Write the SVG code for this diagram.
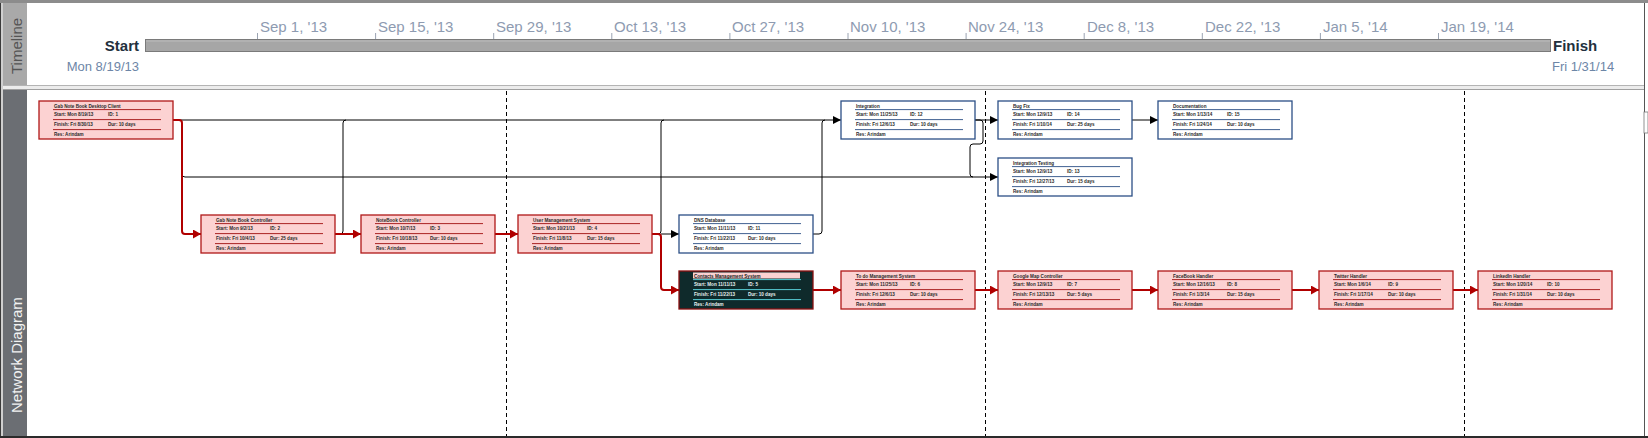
<svg xmlns="http://www.w3.org/2000/svg" width="1648" height="438" viewBox="0 0 1648 438">
<style>
.tk{font-family:"Liberation Sans",Arial,sans-serif;font-size:15px;fill:#8e9bb1}
.se{font-family:"Liberation Sans",Arial,sans-serif;font-size:15px;font-weight:bold;fill:#23303d}
.dt{font-family:"Liberation Sans",Arial,sans-serif;font-size:13px;fill:#6d86a7}
.side{font-family:"Liberation Sans",Arial,sans-serif;font-size:15px}
.n text{font-family:"Liberation Sans",Arial,sans-serif;font-size:4.6px;font-weight:bold;fill:#2a2a2a}
.n rect.box{stroke-width:1.3}
.n line{stroke-width:0.9}
.crit rect.box{fill:#fcd2d2;stroke:#b01818}
.crit line{stroke:#a01010}
.norm rect.box{fill:#ffffff;stroke:#2b4f86}
.norm line{stroke:#2b4f86}
.sel rect.box{fill:#0f2a2b;stroke:#8b1010}
.sel line{stroke:#5fdde6}
.sel text{fill:#e6f0f0}
.sel text.h{fill:#1a1a1a}
.sel rect.hl{fill:#fcd2d2}
.red{fill:none;stroke:#b00000;stroke-width:2}
.blk{fill:none;stroke:#000;stroke-width:1}
.dash{stroke:#000;stroke-width:1;stroke-dasharray:4 3}
</style>
<defs>
<marker id="ar" markerUnits="userSpaceOnUse" markerWidth="10" markerHeight="10" refX="8" refY="4.5" orient="auto"><path d="M0,0 L8,4.5 L0,9 Z" fill="#b00000"/></marker>
<marker id="ab" markerUnits="userSpaceOnUse" markerWidth="10" markerHeight="10" refX="8" refY="4" orient="auto"><path d="M0,0 L8,4 L0,8 Z" fill="#000"/></marker>
</defs>
<rect x="0" y="0" width="1648" height="438" fill="#ffffff"/>
<!-- frame -->
<rect x="0" y="0" width="3" height="438" fill="#cfcfcf"/>
<line x1="0.5" y1="0" x2="0.5" y2="438" stroke="#3a3a3a"/>
<line x1="0" y1="1.5" x2="1648" y2="1.5" stroke="#8c8c8c" stroke-width="3"/>
<!-- side strips -->
<rect x="3" y="3" width="24" height="82" fill="#a9a9a9"/>
<text class="side" transform="translate(21.5,74) rotate(-90)" fill="#555555">Timeline</text>
<rect x="3" y="90" width="24" height="346" fill="#6b6e73"/>
<text class="side" transform="translate(22,413) rotate(-90)" fill="#f2f2f2">Network Diagram</text>
<!-- separator -->
<rect x="3" y="85" width="1641" height="5" fill="#ececec"/>
<line x1="3" y1="85.5" x2="1644" y2="85.5" stroke="#b4b4b4"/>
<line x1="3" y1="89.5" x2="1644" y2="89.5" stroke="#a0a0a0"/>
<line x1="1644.5" y1="3" x2="1644.5" y2="438" stroke="#555555"/>
<rect x="1644" y="112" width="4" height="21" fill="#ffffff" stroke="#777777" stroke-width="0.8"/>
<line x1="0" y1="437" x2="1648" y2="437" stroke="#2a2a2a" stroke-width="2"/>
<!-- timeline -->
<g id="timeline">
<rect x="145.5" y="39.5" width="1405" height="12" fill="#a6a6a6" stroke="#7a7a7a"/>
<line x1="146" y1="41" x2="1550" y2="41" stroke="#bcbcbc"/>
<g stroke="#9aa3b2" stroke-width="1">
<line x1="257.5" y1="33" x2="257.5" y2="39"/>
<line x1="375.6" y1="33" x2="375.6" y2="39"/>
<line x1="493.7" y1="33" x2="493.7" y2="39"/>
<line x1="611.8" y1="33" x2="611.8" y2="39"/>
<line x1="729.9" y1="33" x2="729.9" y2="39"/>
<line x1="848" y1="33" x2="848" y2="39"/>
<line x1="966.1" y1="33" x2="966.1" y2="39"/>
<line x1="1084.2" y1="33" x2="1084.2" y2="39"/>
<line x1="1202.3" y1="33" x2="1202.3" y2="39"/>
<line x1="1320.4" y1="33" x2="1320.4" y2="39"/>
<line x1="1438.5" y1="33" x2="1438.5" y2="39"/>
</g>
<text class="tk" x="260" y="32">Sep 1, '13</text>
<text class="tk" x="378" y="32">Sep 15, '13</text>
<text class="tk" x="496" y="32">Sep 29, '13</text>
<text class="tk" x="614" y="32">Oct 13, '13</text>
<text class="tk" x="732" y="32">Oct 27, '13</text>
<text class="tk" x="850" y="32">Nov 10, '13</text>
<text class="tk" x="968" y="32">Nov 24, '13</text>
<text class="tk" x="1087" y="32">Dec 8, '13</text>
<text class="tk" x="1205" y="32">Dec 22, '13</text>
<text class="tk" x="1323" y="32">Jan 5, '14</text>
<text class="tk" x="1441" y="32">Jan 19, '14</text>
<text class="se" x="139" y="51" text-anchor="end">Start</text>
<text class="se" x="1553" y="51">Finish</text>
<text class="dt" x="139" y="71" text-anchor="end">Mon 8/19/13</text>
<text class="dt" x="1552" y="71">Fri 1/31/14</text>
</g>
<!-- date dividers -->
<g id="dividers">
<line class="dash" x1="506.5" y1="91" x2="506.5" y2="436"/>
<line class="dash" x1="985.5" y1="91" x2="985.5" y2="436"/>
<line class="dash" x1="1464.5" y1="91" x2="1464.5" y2="436"/>
</g>
<!-- connectors -->
<g id="connectors">
<path class="blk" d="M173,120 H841" marker-end="url(#ab)"/>
<path class="blk" d="M182,123 V174 Q182,177 185,177 H998" marker-end="url(#ab)"/>
<path class="blk" d="M335,234 H340 Q343,234 343,231 V123 Q343,120 346,120"/>
<path class="blk" d="M652,234 H658 Q661,234 661,231 V123 Q661,120 664,120"/>
<path class="blk" d="M661,234 H679" marker-end="url(#ab)"/>
<path class="blk" d="M813,234 H819 Q822,234 822,231 V123 Q822,120 825,120"/>
<path class="blk" d="M975,120 H998" marker-end="url(#ab)"/>
<path class="blk" d="M975,120 H980 Q983,120 983,123 V141 Q983,144 980,144 H973 Q970,144 970,147 V174 Q970,177 973,177"/>
<path class="blk" d="M1132,120 H1158" marker-end="url(#ab)"/>
<path class="red" d="M173,120 H179 Q182,120 182,123 V231 Q182,234 185,234 H201" marker-end="url(#ar)"/>
<path class="red" d="M335,234 H361" marker-end="url(#ar)"/>
<path class="red" d="M495,234 H518" marker-end="url(#ar)"/>
<path class="red" d="M652,234 H658 Q661,234 661,237 V287 Q661,290 664,290 H679" marker-end="url(#ar)"/>
<path class="red" d="M813,290 H841" marker-end="url(#ar)"/>
<path class="red" d="M975,290 H998" marker-end="url(#ar)"/>
<path class="red" d="M1132,290 H1158" marker-end="url(#ar)"/>
<path class="red" d="M1292,290 H1319" marker-end="url(#ar)"/>
<path class="red" d="M1453,290 H1478" marker-end="url(#ar)"/>
</g>
<!-- nodes -->
<g id="node-1" class="n crit" transform="translate(39,101)">
<rect class="box" x="0" y="0" width="134" height="38"/>
<line x1="14" y1="8.6" x2="122" y2="8.6"/><line x1="14" y1="18.6" x2="122" y2="18.6"/><line x1="14" y1="28.6" x2="122" y2="28.6"/>
<text x="15" y="6.6">Gab Note Book Desktop Client</text>
<text x="15" y="15.4">Start: Mon 8/19/13</text><text x="69" y="15.4">ID: 1</text>
<text x="15" y="25.4">Finish: Fri 8/30/13</text><text x="69" y="25.4">Dur: 10 days</text>
<text x="15" y="35.2">Res: Arindam</text>
</g>
<g id="node-2" class="n crit" transform="translate(201,215)">
<rect class="box" x="0" y="0" width="134" height="38"/>
<line x1="14" y1="8.6" x2="122" y2="8.6"/><line x1="14" y1="18.6" x2="122" y2="18.6"/><line x1="14" y1="28.6" x2="122" y2="28.6"/>
<text x="15" y="6.6">Gab Note Book Controller</text>
<text x="15" y="15.4">Start: Mon 9/2/13</text><text x="69" y="15.4">ID: 2</text>
<text x="15" y="25.4">Finish: Fri 10/4/13</text><text x="69" y="25.4">Dur: 25 days</text>
<text x="15" y="35.2">Res: Arindam</text>
</g>
<g id="node-3" class="n crit" transform="translate(361,215)">
<rect class="box" x="0" y="0" width="134" height="38"/>
<line x1="14" y1="8.6" x2="122" y2="8.6"/><line x1="14" y1="18.6" x2="122" y2="18.6"/><line x1="14" y1="28.6" x2="122" y2="28.6"/>
<text x="15" y="6.6">NoteBook Controller</text>
<text x="15" y="15.4">Start: Mon 10/7/13</text><text x="69" y="15.4">ID: 3</text>
<text x="15" y="25.4">Finish: Fri 10/18/13</text><text x="69" y="25.4">Dur: 10 days</text>
<text x="15" y="35.2">Res: Arindam</text>
</g>
<g id="node-4" class="n crit" transform="translate(518,215)">
<rect class="box" x="0" y="0" width="134" height="38"/>
<line x1="14" y1="8.6" x2="122" y2="8.6"/><line x1="14" y1="18.6" x2="122" y2="18.6"/><line x1="14" y1="28.6" x2="122" y2="28.6"/>
<text x="15" y="6.6">User Management System</text>
<text x="15" y="15.4">Start: Mon 10/21/13</text><text x="69" y="15.4">ID: 4</text>
<text x="15" y="25.4">Finish: Fri 11/8/13</text><text x="69" y="25.4">Dur: 15 days</text>
<text x="15" y="35.2">Res: Arindam</text>
</g>
<g id="node-11" class="n norm" transform="translate(679,215)">
<rect class="box" x="0" y="0" width="134" height="38"/>
<line x1="14" y1="8.6" x2="122" y2="8.6"/><line x1="14" y1="18.6" x2="122" y2="18.6"/><line x1="14" y1="28.6" x2="122" y2="28.6"/>
<text x="15" y="6.6">DNS Database</text>
<text x="15" y="15.4">Start: Mon 11/11/13</text><text x="69" y="15.4">ID: 11</text>
<text x="15" y="25.4">Finish: Fri 11/22/13</text><text x="69" y="25.4">Dur: 10 days</text>
<text x="15" y="35.2">Res: Arindam</text>
</g>
<g id="node-5" class="n sel" transform="translate(679,271)">
<rect class="box" x="0" y="0" width="134" height="38"/>
<rect class="hl" x="14" y="1.5" width="107" height="6"/>
<line x1="14" y1="8.6" x2="122" y2="8.6"/><line x1="14" y1="18.6" x2="122" y2="18.6"/><line x1="14" y1="28.6" x2="122" y2="28.6"/>
<text class="h" x="15" y="6.6">Contacts Management System</text>
<text x="15" y="15.4">Start: Mon 11/11/13</text><text x="69" y="15.4">ID: 5</text>
<text x="15" y="25.4">Finish: Fri 11/22/13</text><text x="69" y="25.4">Dur: 10 days</text>
<text x="15" y="35.2">Res: Arindam</text>
</g>
<g id="node-12" class="n norm" transform="translate(841,101)">
<rect class="box" x="0" y="0" width="134" height="38"/>
<line x1="14" y1="8.6" x2="122" y2="8.6"/><line x1="14" y1="18.6" x2="122" y2="18.6"/><line x1="14" y1="28.6" x2="122" y2="28.6"/>
<text x="15" y="6.6">Integration</text>
<text x="15" y="15.4">Start: Mon 11/25/13</text><text x="69" y="15.4">ID: 12</text>
<text x="15" y="25.4">Finish: Fri 12/6/13</text><text x="69" y="25.4">Dur: 10 days</text>
<text x="15" y="35.2">Res: Arindam</text>
</g>
<g id="node-6" class="n crit" transform="translate(841,271)">
<rect class="box" x="0" y="0" width="134" height="38"/>
<line x1="14" y1="8.6" x2="122" y2="8.6"/><line x1="14" y1="18.6" x2="122" y2="18.6"/><line x1="14" y1="28.6" x2="122" y2="28.6"/>
<text x="15" y="6.6">To do Management System</text>
<text x="15" y="15.4">Start: Mon 11/25/13</text><text x="69" y="15.4">ID: 6</text>
<text x="15" y="25.4">Finish: Fri 12/6/13</text><text x="69" y="25.4">Dur: 10 days</text>
<text x="15" y="35.2">Res: Arindam</text>
</g>
<g id="node-14" class="n norm" transform="translate(998,101)">
<rect class="box" x="0" y="0" width="134" height="38"/>
<line x1="14" y1="8.6" x2="122" y2="8.6"/><line x1="14" y1="18.6" x2="122" y2="18.6"/><line x1="14" y1="28.6" x2="122" y2="28.6"/>
<text x="15" y="6.6">Bug Fix</text>
<text x="15" y="15.4">Start: Mon 12/9/13</text><text x="69" y="15.4">ID: 14</text>
<text x="15" y="25.4">Finish: Fri 1/10/14</text><text x="69" y="25.4">Dur: 25 days</text>
<text x="15" y="35.2">Res: Arindam</text>
</g>
<g id="node-13" class="n norm" transform="translate(998,158)">
<rect class="box" x="0" y="0" width="134" height="38"/>
<line x1="14" y1="8.6" x2="122" y2="8.6"/><line x1="14" y1="18.6" x2="122" y2="18.6"/><line x1="14" y1="28.6" x2="122" y2="28.6"/>
<text x="15" y="6.6">Integration Testing</text>
<text x="15" y="15.4">Start: Mon 12/9/13</text><text x="69" y="15.4">ID: 13</text>
<text x="15" y="25.4">Finish: Fri 12/27/13</text><text x="69" y="25.4">Dur: 15 days</text>
<text x="15" y="35.2">Res: Arindam</text>
</g>
<g id="node-7" class="n crit" transform="translate(998,271)">
<rect class="box" x="0" y="0" width="134" height="38"/>
<line x1="14" y1="8.6" x2="122" y2="8.6"/><line x1="14" y1="18.6" x2="122" y2="18.6"/><line x1="14" y1="28.6" x2="122" y2="28.6"/>
<text x="15" y="6.6">Google Map Controller</text>
<text x="15" y="15.4">Start: Mon 12/9/13</text><text x="69" y="15.4">ID: 7</text>
<text x="15" y="25.4">Finish: Fri 12/13/13</text><text x="69" y="25.4">Dur: 5 days</text>
<text x="15" y="35.2">Res: Arindam</text>
</g>
<g id="node-15" class="n norm" transform="translate(1158,101)">
<rect class="box" x="0" y="0" width="134" height="38"/>
<line x1="14" y1="8.6" x2="122" y2="8.6"/><line x1="14" y1="18.6" x2="122" y2="18.6"/><line x1="14" y1="28.6" x2="122" y2="28.6"/>
<text x="15" y="6.6">Documentation</text>
<text x="15" y="15.4">Start: Mon 1/13/14</text><text x="69" y="15.4">ID: 15</text>
<text x="15" y="25.4">Finish: Fri 1/24/14</text><text x="69" y="25.4">Dur: 10 days</text>
<text x="15" y="35.2">Res: Arindam</text>
</g>
<g id="node-8" class="n crit" transform="translate(1158,271)">
<rect class="box" x="0" y="0" width="134" height="38"/>
<line x1="14" y1="8.6" x2="122" y2="8.6"/><line x1="14" y1="18.6" x2="122" y2="18.6"/><line x1="14" y1="28.6" x2="122" y2="28.6"/>
<text x="15" y="6.6">FaceBook Handler</text>
<text x="15" y="15.4">Start: Mon 12/16/13</text><text x="69" y="15.4">ID: 8</text>
<text x="15" y="25.4">Finish: Fri 1/3/14</text><text x="69" y="25.4">Dur: 15 days</text>
<text x="15" y="35.2">Res: Arindam</text>
</g>
<g id="node-9" class="n crit" transform="translate(1319,271)">
<rect class="box" x="0" y="0" width="134" height="38"/>
<line x1="14" y1="8.6" x2="122" y2="8.6"/><line x1="14" y1="18.6" x2="122" y2="18.6"/><line x1="14" y1="28.6" x2="122" y2="28.6"/>
<text x="15" y="6.6">Twitter Handler</text>
<text x="15" y="15.4">Start: Mon 1/6/14</text><text x="69" y="15.4">ID: 9</text>
<text x="15" y="25.4">Finish: Fri 1/17/14</text><text x="69" y="25.4">Dur: 10 days</text>
<text x="15" y="35.2">Res: Arindam</text>
</g>
<g id="node-10" class="n crit" transform="translate(1478,271)">
<rect class="box" x="0" y="0" width="134" height="38"/>
<line x1="14" y1="8.6" x2="122" y2="8.6"/><line x1="14" y1="18.6" x2="122" y2="18.6"/><line x1="14" y1="28.6" x2="122" y2="28.6"/>
<text x="15" y="6.6">LinkedIn Handler</text>
<text x="15" y="15.4">Start: Mon 1/20/14</text><text x="69" y="15.4">ID: 10</text>
<text x="15" y="25.4">Finish: Fri 1/31/14</text><text x="69" y="25.4">Dur: 10 days</text>
<text x="15" y="35.2">Res: Arindam</text>
</g>
</svg>
